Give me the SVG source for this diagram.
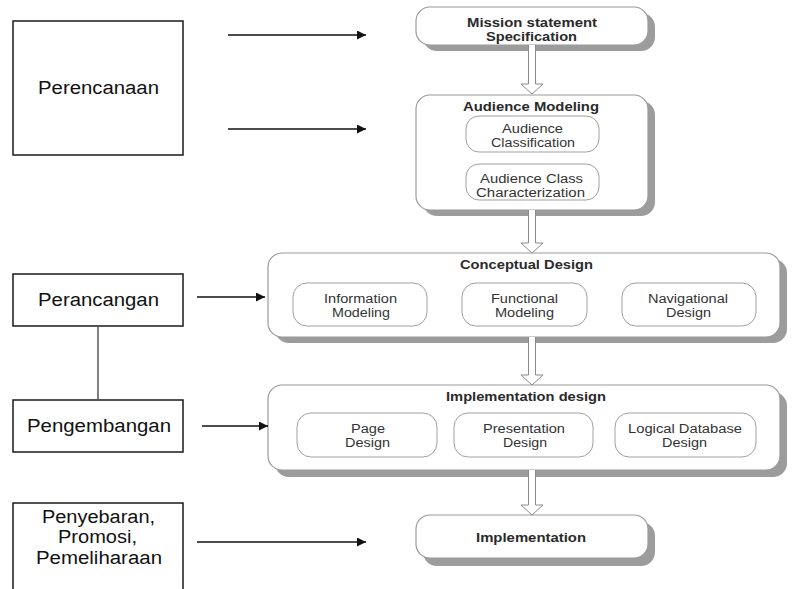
<svg xmlns="http://www.w3.org/2000/svg" width="793" height="589" viewBox="0 0 793 589">
<defs>
<style>
.bg{fill:#ffffff}
.lbox{fill:#ffffff;stroke:#1a1a1a;stroke-width:1.5}
.ltxt{font-family:"Liberation Sans",Arial,sans-serif;font-size:18px;fill:#111;text-anchor:middle}
.big{fill:#ffffff;stroke:#9a9a9a;stroke-width:1.2}
.shadow{fill:#9c9c9c}
.inner{fill:#ffffff;stroke:#a0a0a0;stroke-width:1}
.title{font-family:"Liberation Sans",Arial,sans-serif;font-size:12.5px;font-weight:bold;fill:#2a2a2a;text-anchor:middle}
.itxt{font-family:"Liberation Sans",Arial,sans-serif;font-size:12.5px;fill:#333;text-anchor:middle}
.arr{stroke:#111;stroke-width:1.5;fill:none;marker-end:url(#ah)}
.hollow{fill:#ffffff;stroke:#8a8a8a;stroke-width:1}
.link{stroke:#555;stroke-width:1.5;fill:none}
</style>
<marker id="ah" viewBox="0 0 10 10" refX="10" refY="5" markerWidth="10" markerHeight="9" markerUnits="userSpaceOnUse" orient="auto">
<path d="M0,0 L10,5 L0,10 z" fill="#111"/>
</marker>
</defs>
<rect class="bg" x="0" y="0" width="793" height="589"/>

<g id="perencanaan">
<rect class="lbox" x="13" y="21" width="170" height="134"/>
<text class="ltxt" x="98.5" y="94" textLength="121" lengthAdjust="spacingAndGlyphs">Perencanaan</text>
</g>
<g id="perancangan">
<rect class="lbox" x="13" y="274" width="170" height="52"/>
<text class="ltxt" x="98.5" y="306" textLength="121" lengthAdjust="spacingAndGlyphs">Perancangan</text>
</g>
<g id="pengembangan">
<rect class="lbox" x="13" y="400" width="170" height="52"/>
<text class="ltxt" x="99" y="432" textLength="144" lengthAdjust="spacingAndGlyphs">Pengembangan</text>
</g>
<g id="penyebaran">
<rect class="lbox" x="13" y="503" width="170" height="100"/>
<text class="ltxt" x="98.5" y="523" textLength="113" lengthAdjust="spacingAndGlyphs">Penyebaran,</text>
<text class="ltxt" x="97.5" y="543" textLength="79" lengthAdjust="spacingAndGlyphs">Promosi,</text>
<text class="ltxt" x="99" y="564" textLength="126" lengthAdjust="spacingAndGlyphs">Pemeliharaan</text>
</g>

<g id="mission">
<rect class="shadow" x="423" y="13" width="232" height="38" rx="14"/>
<rect class="big" x="416" y="7" width="232" height="38" rx="14"/>
<text class="title" x="532" y="27" textLength="130" lengthAdjust="spacingAndGlyphs">Mission statement</text>
<text class="title" x="531.5" y="41" textLength="91" lengthAdjust="spacingAndGlyphs">Specification</text>
</g>

<g id="audience-modeling">
<rect class="shadow" x="423" y="101" width="232" height="115" rx="14"/>
<rect class="big" x="416" y="95" width="232" height="115" rx="14"/>
<text class="title" x="531" y="111" textLength="136" lengthAdjust="spacingAndGlyphs">Audience Modeling</text>
<g id="audience-classification">
<rect class="inner" x="466" y="116" width="133" height="36" rx="13"/>
<text class="itxt" x="532.5" y="133" textLength="61" lengthAdjust="spacingAndGlyphs">Audience</text>
<text class="itxt" x="533" y="147" textLength="84" lengthAdjust="spacingAndGlyphs">Classification</text>
</g>
<g id="audience-class-characterization">
<rect class="inner" x="466" y="164" width="133" height="36" rx="13"/>
<text class="itxt" x="531.5" y="183" textLength="103" lengthAdjust="spacingAndGlyphs">Audience Class</text>
<text class="itxt" x="530.5" y="197" textLength="109" lengthAdjust="spacingAndGlyphs">Characterization</text>
</g>
</g>

<g id="conceptual-design">
<rect class="shadow" x="275" y="259" width="512" height="84" rx="14"/>
<rect class="big" x="268" y="253" width="512" height="84" rx="14"/>
<text class="title" x="526.5" y="269" textLength="133" lengthAdjust="spacingAndGlyphs">Conceptual Design</text>
<g id="information-modeling">
<rect class="inner" x="293" y="283" width="134" height="43" rx="14"/>
<text class="itxt" x="360.5" y="303" textLength="73" lengthAdjust="spacingAndGlyphs">Information</text>
<text class="itxt" x="361" y="317" textLength="58" lengthAdjust="spacingAndGlyphs">Modeling</text>
</g>
<g id="functional-modeling">
<rect class="inner" x="462" y="283" width="125" height="43" rx="14"/>
<text class="itxt" x="524.5" y="303" textLength="67" lengthAdjust="spacingAndGlyphs">Functional</text>
<text class="itxt" x="524.5" y="317" textLength="59" lengthAdjust="spacingAndGlyphs">Modeling</text>
</g>
<g id="navigational-design">
<rect class="inner" x="622" y="283" width="134" height="43" rx="14"/>
<text class="itxt" x="688" y="303" textLength="80" lengthAdjust="spacingAndGlyphs">Navigational</text>
<text class="itxt" x="688.5" y="317" textLength="45" lengthAdjust="spacingAndGlyphs">Design</text>
</g>
</g>

<g id="implementation-design">
<rect class="shadow" x="275" y="392" width="512" height="85" rx="14"/>
<rect class="big" x="268" y="385" width="512" height="85" rx="14"/>
<text class="title" x="526" y="401" textLength="160" lengthAdjust="spacingAndGlyphs">Implementation design</text>
<g id="page-design">
<rect class="inner" x="297" y="413" width="140" height="44" rx="14"/>
<text class="itxt" x="368" y="433" textLength="34" lengthAdjust="spacingAndGlyphs">Page</text>
<text class="itxt" x="367.5" y="447" textLength="45" lengthAdjust="spacingAndGlyphs">Design</text>
</g>
<g id="presentation-design">
<rect class="inner" x="454" y="413" width="139" height="44" rx="14"/>
<text class="itxt" x="524" y="433" textLength="82" lengthAdjust="spacingAndGlyphs">Presentation</text>
<text class="itxt" x="525" y="447" textLength="44" lengthAdjust="spacingAndGlyphs">Design</text>
</g>
<g id="logical-database-design">
<rect class="inner" x="615" y="413" width="141" height="44" rx="14"/>
<text class="itxt" x="685" y="433" textLength="114" lengthAdjust="spacingAndGlyphs">Logical Database</text>
<text class="itxt" x="684.5" y="447" textLength="45" lengthAdjust="spacingAndGlyphs">Design</text>
</g>
</g>

<g id="implementation">
<rect class="shadow" x="423" y="522" width="232" height="44" rx="14"/>
<rect class="big" x="416" y="515" width="232" height="43" rx="14"/>
<text class="title" x="531" y="542" textLength="110" lengthAdjust="spacingAndGlyphs">Implementation</text>
</g>

<g id="connectors">
<line class="arr" x1="228" y1="35" x2="366" y2="35"/>
<line class="arr" x1="228" y1="129" x2="366" y2="129"/>
<line class="arr" x1="197" y1="297" x2="265" y2="297"/>
<line class="arr" x1="202" y1="426" x2="268" y2="426"/>
<line class="arr" x1="197" y1="542" x2="366" y2="542"/>
<line class="link" x1="98" y1="326" x2="98" y2="400"/>
<path class="hollow" d="M528.5,45 V84 H521 L532,94 L543,84 H535.5 V45"/>
<path class="hollow" d="M528.5,210 V243 H521 L532,253 L543,243 H535.5 V210"/>
<path class="hollow" d="M528.5,337 V375 H521 L532,385 L543,375 H535.5 V337"/>
<path class="hollow" d="M528.5,470 V505 H521 L532,515 L543,505 H535.5 V470"/>
</g>
</svg>
